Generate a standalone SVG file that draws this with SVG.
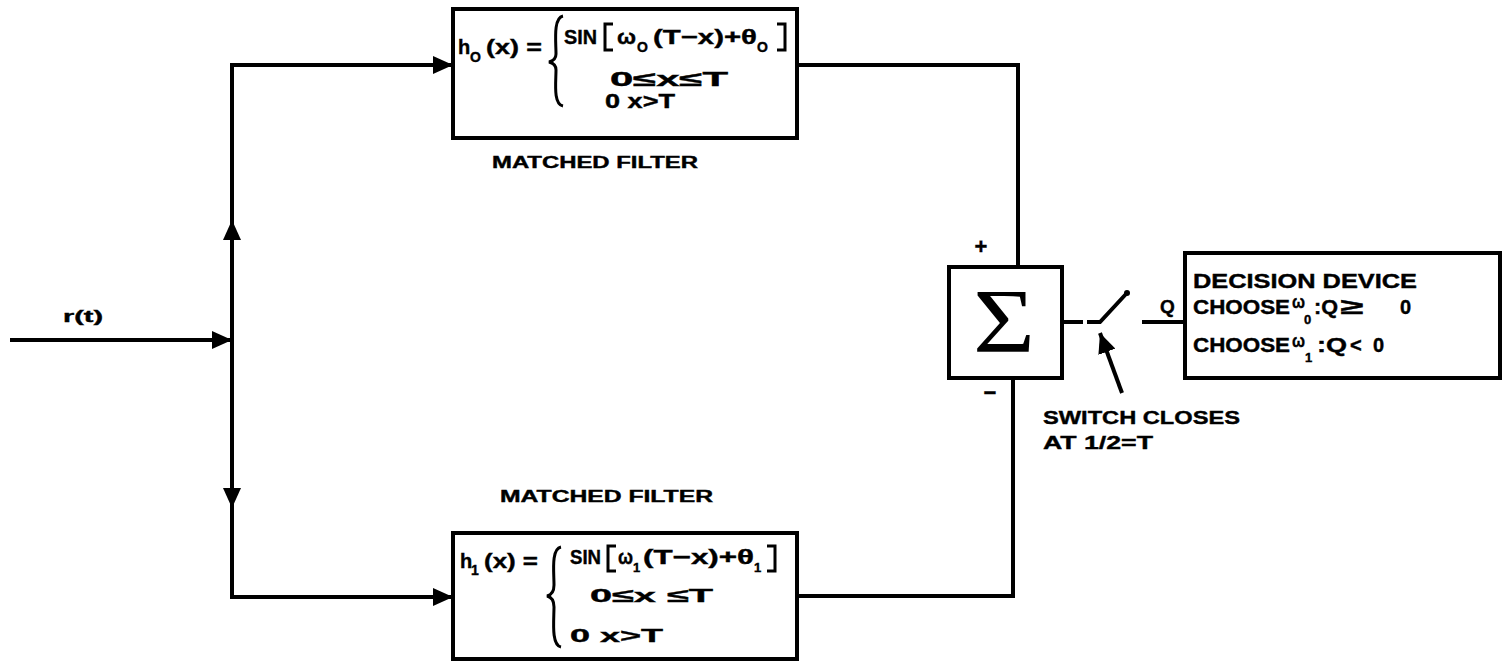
<svg xmlns="http://www.w3.org/2000/svg" width="1505" height="661" viewBox="0 0 1505 661">
<style>
  .t { font-family: "Liberation Sans", Arial, sans-serif; font-weight: bold; fill: #000; stroke: #000; stroke-width: 0.4; }
  .box { fill: none; stroke: #000; stroke-width: 4; }
  .ln { fill: none; stroke: #000; stroke-width: 4; stroke-linejoin: miter; }
  .thin { fill: none; stroke: #000; stroke-width: 3; }
  .sg { font-family: "Liberation Serif", "Times New Roman", serif; fill: #000; }
</style>
<defs>
  <marker id="arrow" viewBox="0 0 20 18" refX="20" refY="9" markerWidth="20" markerHeight="18" markerUnits="userSpaceOnUse" orient="auto">
    <path d="M0,0 L20,9 L0,18 z" fill="#000"/>
  </marker>
</defs>
<rect width="1505" height="661" fill="#fff"/>

<g id="connectors">
  <path class="ln" d="M10,340 H232" marker-end="url(#arrow)"/>
  <path class="ln" d="M232,340 V220" marker-end="url(#arrow)"/>
  <path class="ln" d="M232,222 V65 H453" marker-end="url(#arrow)"/>
  <path class="ln" d="M232,340 V508" marker-end="url(#arrow)"/>
  <path class="ln" d="M232,506 V597 H453" marker-end="url(#arrow)"/>
  <path class="ln" d="M797,65 H1018 V267"/>
  <path class="ln" d="M797,596 H1013 V378"/>
  <path class="ln" d="M1062,322 H1083"/>
  <path class="ln" d="M1087,322 H1100 L1126,294"/>
  <circle cx="1127" cy="293" r="3" fill="#000"/>
  <path class="ln" d="M1142,322 H1185"/>
  <path class="ln" d="M1122,393 L1100,333" marker-end="url(#arrow)"/>
</g>

<g id="input-label">
  <text class="t" x="63" y="322" font-size="17" textLength="40" lengthAdjust="spacingAndGlyphs">r(t)</text>
</g>

<g id="filter0">
  <rect class="box" x="453" y="9" width="344" height="129"/>
  <text class="t" x="458" y="54" font-size="20">h</text>
  <text class="t" x="470" y="62" font-size="14">O</text>
  <text class="t" x="486" y="54" font-size="20" textLength="56" lengthAdjust="spacingAndGlyphs">(x) =</text>
  <path class="thin" d="M563,16 C553,18 556,42 556,54 C556,59 553,61 549,62 C553,63 556,65 556,70 C556,82 553,104 563,106"/>
  <text class="t" x="564" y="44" font-size="21" textLength="33" lengthAdjust="spacingAndGlyphs">SIN</text>
  <path class="thin" d="M613,24 H605 V50 H613"/>
  <text class="t" x="617" y="44" font-size="21" textLength="19" lengthAdjust="spacingAndGlyphs">ω</text>
  <text class="t" x="637" y="52" font-size="14">O</text>
  <text class="t" x="653" y="44" font-size="21" textLength="104" lengthAdjust="spacingAndGlyphs">(T−x)+θ</text>
  <text class="t" x="757" y="52" font-size="14">O</text>
  <path class="thin" d="M777,24 H785 V50 H777"/>
  <text class="t" x="610" y="86" font-size="20" textLength="118" lengthAdjust="spacingAndGlyphs">0≤x≤T</text>
  <text class="t" x="605" y="108" font-size="20" textLength="70" lengthAdjust="spacingAndGlyphs">0 x&gt;T</text>
  <text class="t" x="492" y="168" font-size="16" textLength="206" lengthAdjust="spacingAndGlyphs">MATCHED FILTER</text>
</g>

<g id="filter1">
  <rect class="box" x="453" y="533" width="344" height="126"/>
  <text class="t" x="460" y="568" font-size="20">h</text>
  <text class="t" x="471" y="575" font-size="14">1</text>
  <text class="t" x="484" y="568" font-size="20" textLength="54" lengthAdjust="spacingAndGlyphs">(x) =</text>
  <path class="thin" d="M561,547 C551,549 554,572 554,585 C554,592 551,595 547,596 C551,597 554,600 554,607 C554,620 551,645 561,647"/>
  <text class="t" x="570" y="564" font-size="20" textLength="31" lengthAdjust="spacingAndGlyphs">SIN</text>
  <path class="thin" d="M616,546 H608 V571 H616"/>
  <text class="t" x="618" y="564" font-size="20" textLength="15" lengthAdjust="spacingAndGlyphs">ω</text>
  <text class="t" x="633" y="572" font-size="13">1</text>
  <text class="t" x="643" y="564" font-size="20" textLength="111" lengthAdjust="spacingAndGlyphs">(T−x)+θ</text>
  <text class="t" x="754" y="572" font-size="13">1</text>
  <path class="thin" d="M767,546 H775 V571 H767"/>
  <text class="t" x="590" y="602" font-size="19" textLength="123" lengthAdjust="spacingAndGlyphs">0≤x ≤T</text>
  <text class="t" x="570" y="642" font-size="19" textLength="93" lengthAdjust="spacingAndGlyphs">0  x&gt;T</text>
  <text class="t" x="500" y="502" font-size="16" textLength="213" lengthAdjust="spacingAndGlyphs">MATCHED FILTER</text>
</g>

<g id="summer">
  <rect class="box" x="949" y="267" width="113" height="111"/>
  <text class="sg" x="1004" y="352" font-size="92" text-anchor="middle" textLength="62" lengthAdjust="spacingAndGlyphs">Σ</text>
  <text class="t" x="981" y="254" font-size="22" text-anchor="middle">+</text>
  <text class="t" x="990" y="400" font-size="22" text-anchor="middle">−</text>
</g>

<g id="switch-label">
  <text class="t" x="1043" y="424" font-size="19" textLength="197" lengthAdjust="spacingAndGlyphs">SWITCH CLOSES</text>
  <text class="t" x="1043" y="449" font-size="19" textLength="110" lengthAdjust="spacingAndGlyphs">AT 1/2=T</text>
  <text class="t" x="1160" y="313" font-size="19">Q</text>
</g>

<g id="decision">
  <rect class="box" x="1185" y="253" width="315" height="125"/>
  <text class="t" x="1193" y="288" font-size="20" textLength="224" lengthAdjust="spacingAndGlyphs">DECISION DEVICE</text>
  <text class="t" x="1193" y="314" font-size="20" textLength="97" lengthAdjust="spacingAndGlyphs">CHOOSE</text>
  <text class="t" x="1292" y="308" font-size="19" textLength="13" lengthAdjust="spacingAndGlyphs">ω</text>
  <text class="t" x="1304" y="324" font-size="13">0</text>
  <text class="t" x="1314" y="314" font-size="20" textLength="24" lengthAdjust="spacingAndGlyphs">:Q</text>
  <text class="t" x="1340" y="314" font-size="22" textLength="23" lengthAdjust="spacingAndGlyphs">≥</text>
  <text class="t" x="1400" y="314" font-size="20">0</text>
  <text class="t" x="1193" y="352" font-size="20" textLength="97" lengthAdjust="spacingAndGlyphs">CHOOSE</text>
  <text class="t" x="1292" y="347" font-size="19" textLength="13" lengthAdjust="spacingAndGlyphs">ω</text>
  <text class="t" x="1305" y="362" font-size="13">1</text>
  <text class="t" x="1317" y="352" font-size="20" textLength="30" lengthAdjust="spacingAndGlyphs">:Q</text>
  <text class="t" x="1350" y="352" font-size="20">&lt;</text>
  <text class="t" x="1373" y="352" font-size="20">0</text>
</g>
</svg>
